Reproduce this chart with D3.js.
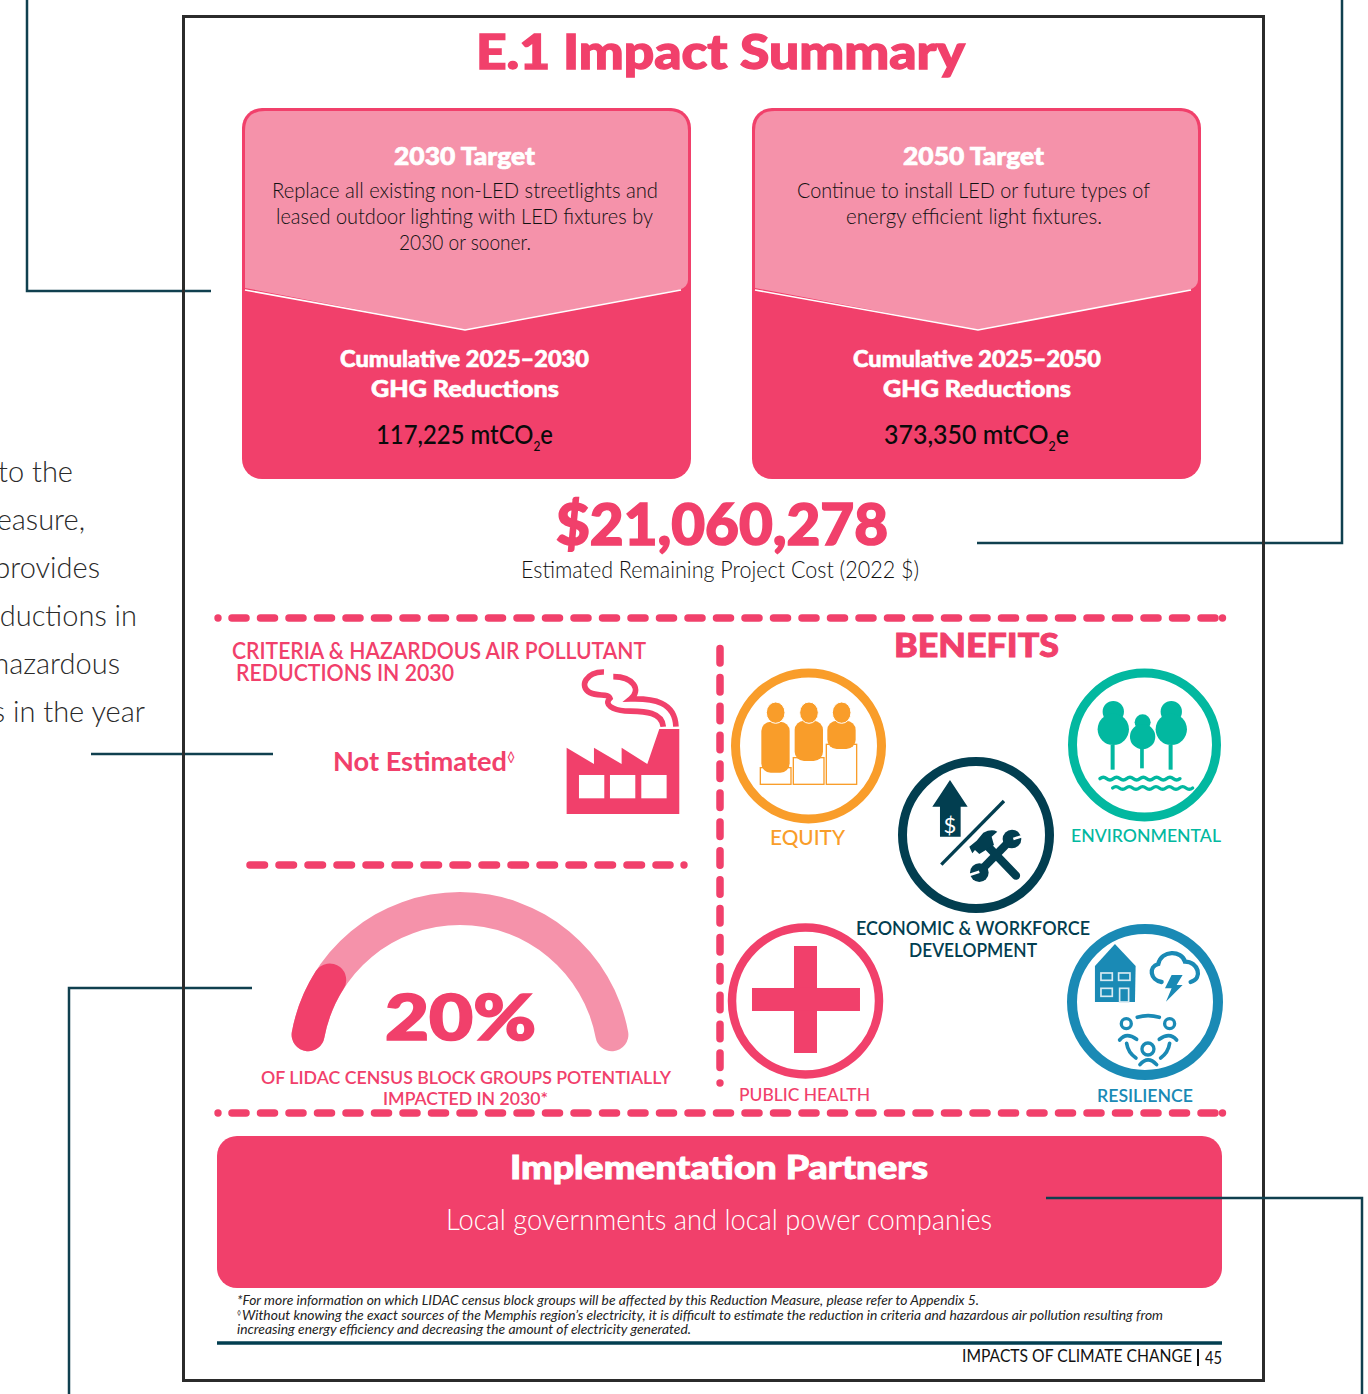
<!DOCTYPE html>
<html>
<head>
<meta charset="utf-8">
<script src="https://cdn.jsdelivr.net/npm/d3@7"></script>
<style>
  html, body { margin: 0; padding: 0; background: #fff; overflow: hidden; }
  svg { display: block; }
  text { font-family: Lato, sans-serif; }
</style>
</head>
<body>
<div id="chart"></div>
<script>
// values and labels
const title = 'E.1 Impact Summary';
const targetTitles = ['2030 Target', '2050 Target'];
const targetLines = [
  ['Replace all existing non-LED streetlights and', 'leased outdoor lighting with LED fixtures by', '2030 or sooner.'],
  ['Continue to install LED or future types of', 'energy efficient light fixtures.']
];
const cumulativeLabels = ['Cumulative 2025–2030', 'Cumulative 2025–2050'];
const ghgReductions = [117225, 373350];
const projectCost = 21060278;
const gaugeShare = 20;
const benefits = ['EQUITY', 'ENVIRONMENTAL', 'PUBLIC HEALTH', 'RESILIENCE'];
const partnersText = 'Local governments and local power companies';
const footnotes = [
  '*For more information on which LIDAC census block groups will be affected by this Reduction Measure, please refer to Appendix 5.',
  'Without knowing the exact sources of the Memphis region’s electricity, it is difficult to estimate the reduction in criteria and hazardous air pollution resulting from',
  'increasing energy efficiency and decreasing the amount of electricity generated.'
];
const sideText = ['to the', 'measure,', 'provides', 'reductions in', 'hazardous', 's in the year'];

const PINK = '#f1406b', LIGHT = '#f592aa', DARK = '#023e50', ORANGE = '#f99d2a', GREEN = '#02b8a0', BLUE = '#1a8ab5';

const svg = d3.select('#chart').append('svg').attr('width', 1368).attr('height', 1394);

// squeezes text to the width it has in the picture, the original font is narrower
function label(parent, str, x, y, size, width, weight, fill, extra) {
  const t = parent.append('text')
    .attr('x', x).attr('y', y)
    .attr('font-size', size).attr('font-weight', weight).attr('fill', fill)
    .text(str);
  if (width) t.attr('textLength', width).attr('lengthAdjust', 'spacingAndGlyphs');
  // the heavy face in the original is fatter than Lato Black
  if (weight === 900) t.attr('stroke', fill).attr('stroke-width', size * 0.028);
  if (extra) extra(t);
  return t;
}

function leader(points) {
  svg.append('path').attr('d', d3.line()(points))
    .attr('fill', 'none').attr('stroke', '#10404f').attr('stroke-width', 2.5);
}

// leader lines and the cut off text outside the frame
leader([[27, 0], [27, 291], [211, 291]]);
leader([[1342, 0], [1342, 543], [977, 543]]);
leader([[91, 754], [273, 754]]);
leader([[69, 1394], [69, 988], [252, 988]]);

sideText.forEach((s, i) => {
  const right = [73, 85, 100, 137, 120, 145][i];
  label(svg, s, right, 482 + i * 48, 29, null, 300, '#2a2a2a', t => t.attr('text-anchor', 'end'));
});

svg.append('rect').attr('x', 183.5).attr('y', 16.5).attr('width', 1080).attr('height', 1364)
  .attr('fill', 'none').attr('stroke', '#2b2b2b').attr('stroke-width', 3);

label(svg, title, 476, 69, 48, 489, 900, PINK);

// target cards
const cardLeft = d3.scaleOrdinal().domain([0, 1]).range([242, 752]);
const cardText = [
  { head: [394, 141], lines: [[272, 386], [276, 377], [399, 132]], cum: [340, 249], ghg: [371, 188], val: [376, 177], tip: 465 },
  { head: [903, 141], lines: [[797, 353], [846, 256]], cum: [853, 248], ghg: [883, 188], val: [884, 185], tip: 978 }
];
targetTitles.forEach((head, i) => {
  const x0 = cardLeft(i), x1 = x0 + 449, pos = cardText[i], g = svg.append('g');
  g.append('rect').attr('x', x0).attr('y', 108).attr('width', 449).attr('height', 371).attr('rx', 20).attr('fill', PINK);
  const top = `M${x0 + 3},288 L${x0 + 3},131 Q${x0 + 3},111 ${x0 + 23},111 L${x1 - 23},111 Q${x1 - 3},111 ${x1 - 3},131 L${x1 - 3},280 Q${x1 - 3},287 ${x1 - 12},290 L${pos.tip},330 Z`;
  g.append('path').attr('d', top).attr('fill', LIGHT);
  g.append('path').attr('d', `M${x0 + 3},290 L${pos.tip},330 L${x1 - 10},290`).attr('fill', 'none').attr('stroke', '#fff').attr('stroke-width', 1.5);

  label(g, head, pos.head[0], 165, 25, pos.head[1], 900, '#fff');
  targetLines[i].forEach((line, j) => label(g, line, pos.lines[j][0], 198 + j * 26, 22, pos.lines[j][1], 300, '#111'));
  label(g, cumulativeLabels[i], pos.cum[0], 367, 23, pos.cum[1], 900, '#fff');
  label(g, 'GHG Reductions', pos.ghg[0], 397, 23, pos.ghg[1], 900, '#fff');
  const val = g.append('text').attr('x', pos.val[0]).attr('y', 444).attr('font-size', 26).attr('font-weight', 500).attr('fill', '#0a0a0a');
  val.append('tspan').text(d3.format(',')(ghgReductions[i]) + ' mtCO');
  val.append('tspan').attr('font-size', 13).attr('dy', 7).text('2');
  val.append('tspan').attr('dy', -7).text('e');
  val.attr('textLength', pos.val[1]).attr('lengthAdjust', 'spacingAndGlyphs');
});

label(svg, '$' + d3.format(',')(projectCost), 556, 545, 58, 332, 900, PINK);
label(svg, 'Estimated Remaining Project Cost (2022 $)', 521, 578, 24, 398, 300, '#111');

// dashed dividers, the dots at the ends overlap the pattern like in the picture
function dashed(x1, y1, x2, y2, dash, gap) {
  svg.append('line').attr('x1', x1).attr('y1', y1).attr('x2', x2).attr('y2', y2)
    .attr('stroke', PINK).attr('stroke-width', 7.5).attr('stroke-linecap', 'round')
    .attr('stroke-dasharray', `${dash} ${gap}`);
}
dashed(232, 618, 1215, 618, 14, 14.5);
dashed(232, 1113, 1215, 1113, 14, 14.5);
dashed(250, 865, 670, 865, 14.5, 14.5);
dashed(720, 648.5, 720, 1072, 14.5, 14.4);
[[218, 618], [1222.5, 618], [218, 1113], [1222.5, 1113], [684, 865], [720, 1083]].forEach(d =>
  svg.append('circle').attr('cx', d[0]).attr('cy', d[1]).attr('r', 3.7).attr('fill', PINK));

// pollutants
label(svg, 'CRITERIA & HAZARDOUS AIR POLLUTANT', 232, 659, 22, 414, 600, PINK);
label(svg, 'REDUCTIONS IN 2030', 236, 681, 22, 218, 600, PINK);
label(svg, 'Not Estimated', 333, 771, 27, 174, 700, PINK);
label(svg, '◊', 507, 762, 14, null, 400, PINK);

const factory = svg.append('g').attr('transform', 'translate(220,630) scale(0.3333)');
factory.append('path').attr('fill', PINK)
  .attr('d', 'M1040,353 L1122,402 L1122,353 L1205,402 L1205,353 L1282,402 L1318,297 L1378,297 L1378,552 L1040,552 Z');
[1077, 1170, 1264].forEach(x => factory.append('rect').attr('x', x).attr('y', 435).attr('width', 76).attr('height', 70).attr('fill', '#fff'));
factory.append('path').attr('fill', 'none').attr('stroke', PINK).attr('stroke-width', 17)
  .attr('d', 'M1152,126 C1100,124 1075,170 1110,188 C1135,200 1165,190 1170,205 C1150,225 1180,240 1215,243 C1260,245 1325,240 1330,290');
factory.append('path').attr('fill', 'none').attr('stroke', PINK).attr('stroke-width', 17)
  .attr('d', 'M1180,140 C1240,140 1265,180 1232,207 C1300,205 1365,215 1368,290');

// gauge
const gaugeAngle = d3.scaleLinear().domain([0, 100]).range([-85.6, 85.6].map(d => d * Math.PI / 180));
const gaugeArc = d3.arc().innerRadius(138).outerRadius(171).cornerRadius(16.5);
const gauge = svg.append('g').attr('transform', 'translate(460,1063)');
gauge.append('path').attr('fill', LIGHT).attr('d', gaugeArc({ startAngle: gaugeAngle(0), endAngle: gaugeAngle(100) }));
gauge.append('path').attr('fill', PINK).attr('d', gaugeArc({ startAngle: gaugeAngle(0), endAngle: gaugeAngle(gaugeShare) }));
label(svg, gaugeShare + '%', 385, 1040, 62, 151, 900, PINK);
label(svg, 'OF LIDAC CENSUS BLOCK GROUPS POTENTIALLY', 261, 1084, 18, 410, 600, PINK);
label(svg, 'IMPACTED IN 2030*', 383, 1105, 18, 165, 600, PINK);

// benefits
label(svg, 'BENEFITS', 894, 657, 32, 165, 900, PINK);

function ring(cx, cy, r, w, color) {
  svg.append('circle').attr('cx', cx).attr('cy', cy).attr('r', r).attr('fill', '#fff').attr('stroke', color).attr('stroke-width', w);
}
ring(808.5, 746, 73, 9, ORANGE);
ring(1144.5, 745, 72, 9, GREEN);
ring(976, 835, 73.5, 9, DARK);
ring(805.5, 1001, 73.5, 8.5, PINK);
ring(1145, 1002, 73, 10, BLUE);

label(svg, benefits[0], 770, 845, 22, 75, 500, ORANGE);
label(svg, benefits[1], 1071, 842, 18, 150, 500, GREEN);
label(svg, 'ECONOMIC & WORKFORCE', 856, 935, 19, 234, 600, DARK);
label(svg, 'DEVELOPMENT', 909, 957, 19, 128, 600, DARK);
label(svg, benefits[2], 739, 1101, 18, 131, 500, PINK);
label(svg, benefits[3], 1097, 1102, 18, 96, 600, BLUE);

// icons, drawn in the coordinates of the 3x crops
const topIcons = svg.append('g').attr('transform', 'translate(720,630) scale(0.3333)');
const lowIcons = svg.append('g').attr('transform', 'translate(720,900) scale(0.3333)');

// equity
[[121, 413, 92, 50], [220, 383, 92, 80], [319, 343, 91, 120]].forEach(b =>
  topIcons.append('rect').attr('x', b[0]).attr('y', b[1]).attr('width', b[2]).attr('height', b[3])
    .attr('fill', '#fff').attr('stroke', ORANGE).attr('stroke-width', 4));
[[124, 275, 153], [224, 272, 121], [322, 272, 85]].forEach(b =>
  topIcons.append('rect').attr('x', b[0]).attr('y', b[1]).attr('width', 85).attr('height', b[2]).attr('rx', 28)
    .attr('fill', ORANGE));
[167, 267, 365].forEach(x =>
  topIcons.append('ellipse').attr('cx', x).attr('cy', 248).attr('rx', 28).attr('ry', 32)
    .attr('fill', ORANGE).attr('stroke', '#fff').attr('stroke-width', 3));

// environmental
[[1180, 245, 32, 47, 298, 12, 74], [1268, 277, 24, 38, 320, 11, 70], [1354, 245, 32, 47, 298, 12, 74]].forEach(t => {
  topIcons.append('circle').attr('cx', t[0]).attr('cy', t[1]).attr('r', t[2]).attr('fill', GREEN);
  topIcons.append('circle').attr('cx', t[0]).attr('cy', t[4]).attr('r', t[3]).attr('fill', GREEN);
  topIcons.append('rect').attr('x', t[0] - t[5] / 2 - 2).attr('y', 345).attr('width', t[5]).attr('height', t[6]).attr('fill', GREEN);
});
[[1140, 446], [1178, 474]].forEach(w => {
  let d = `M${w[0]},${w[1]}`;
  d3.range(6).forEach(() => { d += ' q10,-8 20,0 t20,0'; });
  topIcons.append('path').attr('d', d).attr('fill', 'none').attr('stroke', GREEN).attr('stroke-width', 10).attr('stroke-linecap', 'round');
});

// economic
topIcons.append('path').attr('fill', DARK).attr('d', 'M690,450 L743,530 L722,530 L722,620 L660,620 L660,530 L637,530 Z');
topIcons.append('text').attr('x', 690).attr('y', 610).attr('text-anchor', 'middle').attr('font-size', 66).attr('font-weight', 400).attr('fill', '#fff').text('$');
topIcons.append('line').attr('x1', 852).attr('y1', 513).attr('x2', 664).attr('y2', 704).attr('stroke', DARK).attr('stroke-width', 10);
topIcons.append('path').attr('d', 'M795,640 L888,737').attr('stroke', DARK).attr('stroke-width', 25).attr('stroke-linecap', 'round');
topIcons.append('path').attr('fill', DARK).attr('d', 'M748,650 L770,632 L790,608 Q815,595 832,605 L815,620 L822,645 L778,672 L765,660 L757,670 Z');
topIcons.append('path').attr('d', 'M782,722 L870,632').attr('stroke', DARK).attr('stroke-width', 24);
topIcons.append('circle').attr('cx', 778).attr('cy', 728).attr('r', 28).attr('fill', DARK);
topIcons.append('circle').attr('cx', 876).attr('cy', 627).attr('r', 28).attr('fill', DARK);
topIcons.append('path').attr('d', 'M748,735 L778,725').attr('stroke', '#fff').attr('stroke-width', 8);
topIcons.append('path').attr('d', 'M908,618 L880,627').attr('stroke', '#fff').attr('stroke-width', 8);

// health
lowIcons.append('rect').attr('x', 222).attr('y', 138).attr('width', 69).attr('height', 321).attr('fill', PINK);
lowIcons.append('rect').attr('x', 96).attr('y', 264).attr('width', 324).attr('height', 69).attr('fill', PINK);

// resilience
lowIcons.append('path').attr('fill', BLUE).attr('d', 'M1185,132 L1247,198 L1245,306 L1125,306 L1125,198 Z');
[[1143, 219, 34, 22], [1196, 219, 34, 22], [1143, 265, 34, 24], [1199, 265, 27, 41]].forEach(r =>
  lowIcons.append('rect').attr('x', r[0]).attr('y', r[1]).attr('width', r[2]).attr('height', r[3])
    .attr('fill', 'none').attr('stroke', '#d8eaf2').attr('stroke-width', 5));
lowIcons.append('path').attr('fill', 'none').attr('stroke', BLUE).attr('stroke-width', 13).attr('stroke-linecap', 'round')
  .attr('d', 'M1325,246 C1290,240 1285,200 1315,192 C1325,150 1385,150 1395,185 C1435,185 1450,235 1412,246');
lowIcons.append('path').attr('fill', BLUE).attr('d', 'M1355,225 L1388,225 L1370,255 L1388,255 L1338,305 L1355,265 L1335,265 Z');
[[1219, 371, 15], [1349, 371, 15], [1284, 447, 18]].forEach(c =>
  lowIcons.append('circle').attr('cx', c[0]).attr('cy', c[1]).attr('r', c[2]).attr('fill', 'none').attr('stroke', BLUE).attr('stroke-width', 10));
['M1199,420 Q1219,395 1250,418', 'M1318,418 Q1349,395 1370,420', 'M1260,494 Q1284,465 1310,494',
 'M1252,352 Q1284,342 1318,352', 'M1220,430 Q1224,458 1248,474', 'M1349,430 Q1345,458 1322,474'].forEach(d =>
  lowIcons.append('path').attr('d', d).attr('fill', 'none').attr('stroke', BLUE).attr('stroke-width', 11).attr('stroke-linecap', 'round'));

// partners, its leader line runs over the box
svg.append('rect').attr('x', 217).attr('y', 1136).attr('width', 1005).attr('height', 152).attr('rx', 20).attr('fill', PINK);
label(svg, 'Implementation Partners', 510, 1179, 33, 418, 900, '#fff');
label(svg, partnersText, 446, 1230, 29, 546, 300, '#fff');
leader([[1362, 1394], [1362, 1198], [1046, 1198]]);

// footnotes and page footer
const noteX = [237, 242, 237];
const noteWidths = [742, 921, 454];
footnotes.forEach((s, i) => label(svg, s, noteX[i], 1305 + i * 14.5, 13, noteWidths[i], 400, '#222', t => t.attr('font-style', 'italic')));
label(svg, '◊', 237, 1315, 7, null, 400, '#222');
svg.append('line').attr('x1', 217).attr('x2', 1222).attr('y1', 1343).attr('y2', 1343).attr('stroke', DARK).attr('stroke-width', 3.5);
label(svg, 'IMPACTS OF CLIMATE CHANGE', 962, 1362, 17, 230, 400, '#111');
svg.append('line').attr('x1', 1198).attr('x2', 1198).attr('y1', 1349).attr('y2', 1366).attr('stroke', '#111').attr('stroke-width', 2);
label(svg, '45', 1205, 1364, 17, 17, 400, '#111');
</script>
</body>
</html>
